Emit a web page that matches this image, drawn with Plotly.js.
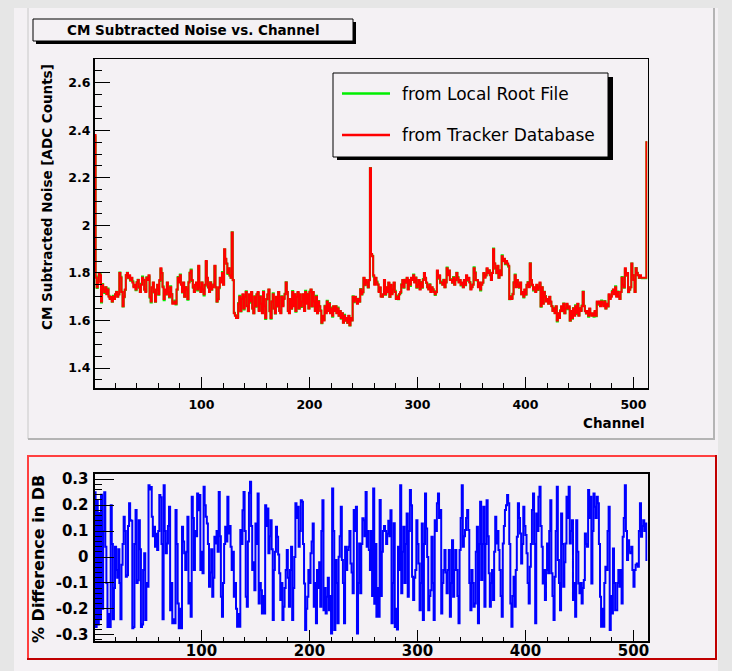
<!DOCTYPE html>
<html><head><meta charset="utf-8">
<script src="https://cdn.plot.ly/plotly-3.0.1.min.js"></script>
<style>html,body{margin:0;padding:0;background:#e6e6e6;}#chart{width:732px;height:671px;}</style>
</head><body><div id="chart"></div>
<script>
// ---- data ----
const dbNoise = [
2.38,1.78,1.74,1.76,1.80,1.79,1.68,1.75,1.73,1.72,1.74,1.71,1.73,1.70,1.69,1.70,
1.68,1.70,1.69,1.71,1.72,1.70,1.71,1.80,1.78,1.72,1.66,1.70,1.73,1.79,1.80,1.78,
1.79,1.77,1.78,1.76,1.74,1.75,1.73,1.76,1.77,1.74,1.72,1.75,1.78,1.77,1.73,1.72,
1.78,1.77,1.79,1.70,1.68,1.74,1.76,1.72,1.68,1.73,1.75,1.71,1.77,1.82,1.80,1.74,
1.69,1.73,1.71,1.76,1.72,1.70,1.74,1.71,1.67,1.67,1.68,1.67,1.73,1.78,1.76,1.79,
1.75,1.72,1.76,1.70,1.74,1.73,1.69,1.76,1.80,1.81,1.77,1.74,1.72,1.75,1.76,1.73,
1.83,1.74,1.72,1.76,1.73,1.71,1.75,1.85,1.78,1.74,1.72,1.76,1.73,1.74,1.75,1.83,
1.74,1.68,1.69,1.74,1.78,1.76,1.80,1.75,1.90,1.86,1.84,1.80,1.82,1.79,1.78,1.97,
1.77,1.63,1.62,1.61,1.61,1.67,1.70,1.64,1.69,1.71,1.65,1.70,1.72,1.66,1.64,1.71,
1.68,1.72,1.65,1.63,1.70,1.66,1.71,1.72,1.64,1.70,1.67,1.63,1.72,1.66,1.61,1.69,
1.71,1.73,1.64,1.61,1.68,1.71,1.65,1.63,1.70,1.66,1.72,1.64,1.63,1.70,1.66,1.69,
1.71,1.76,1.72,1.64,1.63,1.69,1.65,1.72,1.66,1.71,1.64,1.70,1.72,1.65,1.71,1.66,
1.68,1.71,1.64,1.72,1.67,1.71,1.65,1.72,1.73,1.66,1.72,1.68,1.64,1.70,1.63,1.68,
1.66,1.64,1.59,1.62,1.60,1.66,1.63,1.68,1.64,1.67,1.63,1.65,1.62,1.66,1.64,1.66,
1.63,1.65,1.62,1.64,1.61,1.63,1.59,1.62,1.60,1.61,1.59,1.62,1.58,1.61,1.60,1.70,
1.68,1.70,1.69,1.67,1.69,1.68,1.73,1.71,1.72,1.78,1.75,1.77,1.76,1.74,1.77,2.24,
1.88,1.87,1.79,1.75,1.78,1.76,1.75,1.72,1.74,1.70,1.70,1.71,1.77,1.71,1.74,1.72,
1.76,1.70,1.75,1.71,1.73,1.76,1.72,1.69,1.70,1.69,1.71,1.72,1.75,1.77,1.74,1.77,
1.76,1.78,1.73,1.77,1.75,1.78,1.77,1.79,1.76,1.78,1.74,1.75,1.77,1.73,1.76,1.74,
1.77,1.80,1.78,1.76,1.74,1.73,1.75,1.72,1.74,1.73,1.72,1.71,1.72,1.81,1.78,1.79,
1.76,1.76,1.75,1.77,1.74,1.76,1.82,1.79,1.81,1.77,1.77,1.76,1.78,1.75,1.77,1.80,
1.78,1.76,1.77,1.75,1.76,1.74,1.77,1.75,1.79,1.77,1.78,1.76,1.73,1.74,1.75,1.82,
1.80,1.77,1.77,1.74,1.76,1.73,1.75,1.76,1.80,1.78,1.79,1.82,1.80,1.81,1.79,1.77,
1.80,1.90,1.84,1.82,1.80,1.83,1.78,1.81,1.79,1.87,1.85,1.86,1.84,1.85,1.84,1.83,
1.69,1.70,1.69,1.71,1.76,1.79,1.74,1.77,1.75,1.74,1.76,1.71,1.72,1.70,1.73,1.71,
1.75,1.76,1.74,1.84,1.77,1.75,1.73,1.74,1.72,1.75,1.73,1.74,1.76,1.66,1.74,1.67,
1.72,1.70,1.68,1.69,1.67,1.70,1.68,1.66,1.64,1.65,1.63,1.66,1.60,1.63,1.61,1.64,
1.66,1.64,1.67,1.63,1.65,1.67,1.65,1.66,1.60,1.64,1.61,1.65,1.62,1.66,1.63,1.67,
1.62,1.65,1.64,1.66,1.72,1.66,1.64,1.63,1.64,1.62,1.65,1.63,1.62,1.63,1.62,1.64,
1.62,1.68,1.67,1.68,1.66,1.68,1.67,1.66,1.68,1.65,1.67,1.66,1.71,1.69,1.70,1.72,
1.73,1.71,1.74,1.70,1.72,1.70,1.69,1.72,1.78,1.75,1.74,1.82,1.79,1.80,1.72,1.73,
1.74,1.84,1.79,1.77,1.72,1.82,1.80,1.79,1.78,1.79,1.78,1.78,1.78,1.78,1.78,2.35
];
const pctDiff = [
0.25,-0.27,0.22,-0.26,0.17,-0.24,0.24,-0.20,0.10,0.25,0.04,-0.10,-0.27,-0.22,-0.27,0.20,
0.05,-0.24,-0.12,0.04,-0.05,-0.08,0.03,-0.10,-0.24,-0.03,0.05,0.155,0.10,-0.076,-0.07,0.12,
0.207,0.142,0.14,-0.275,-0.27,0.05,0.181,-0.10,-0.09,0.142,0.03,-0.27,-0.26,-0.05,0.014,-0.243,
-0.10,-0.115,0.277,0.26,0.27,0.155,0.08,0.117,0.04,0.09,0.027,0.10,0.239,0.23,0.05,-0.24,
0.277,0.10,0.014,0.052,0.12,0.194,-0.205,-0.10,-0.256,-0.24,-0.256,0.181,0.05,-0.179,-0.275,-0.20,
-0.275,0.117,0.06,0.014,-0.05,0.02,0.155,-0.179,-0.10,-0.23,0.232,0.15,-0.05,0.10,0.08,0.245,
0.18,0.239,-0.05,0.02,-0.063,0.271,0.20,0.155,0.129,0.05,-0.115,-0.06,0.03,-0.153,-0.08,0.078,
0.052,0.10,0.02,0.251,0.08,-0.153,-0.23,-0.10,0.05,0.117,0.06,0.232,0.091,0.12,0.04,-0.05,
0.02,-0.153,-0.10,-0.20,-0.269,-0.22,-0.269,0.104,0.05,0.18,0.251,0.10,-0.153,-0.192,0.06,0.248,
0.29,0.12,-0.05,-0.02,-0.128,0.129,0.05,0.245,-0.179,-0.10,-0.128,-0.218,-0.15,-0.218,0.20,0.12,
0.187,0.014,0.08,0.142,0.03,-0.243,-0.05,0.02,0.117,0.078,0.01,-0.063,-0.166,-0.10,-0.243,-0.192,
-0.12,-0.05,0.027,-0.08,-0.192,-0.05,0.04,-0.243,-0.12,0.0,0.207,0.15,0.194,0.04,0.10,0.219,
0.213,0.05,-0.102,-0.282,-0.20,-0.153,-0.05,-0.10,0.014,0.06,0.129,-0.192,-0.10,-0.256,-0.05,-0.12,
-0.02,-0.192,0.10,0.219,-0.205,-0.12,-0.218,-0.153,-0.08,-0.205,-0.15,-0.295,0.264,0.10,-0.282,-0.012,
-0.10,-0.256,0.001,0.08,0.194,-0.012,-0.10,-0.256,0.04,-0.05,0.027,0.04,0.10,-0.025,-0.06,-0.14,
0.181,0.10,0.194,-0.295,-0.10,0.052,-0.14,0.05,0.149,0.142,0.08,0.251,0.04,0.10,0.027,-0.05,
0.10,-0.15,0.264,-0.18,0.05,-0.23,-0.12,-0.23,0.22,-0.15,0.02,0.10,0.12,0.10,0.05,0.09,
0.14,0.08,0.18,-0.256,-0.10,0.13,-0.27,-0.20,-0.28,0.04,-0.05,0.277,-0.14,0.02,0.117,-0.10,
0.05,0.168,-0.153,0.10,0.258,0.20,-0.076,-0.166,-0.08,-0.05,0.142,0.05,-0.025,-0.205,-0.10,0.129,
-0.243,0.05,0.245,0.11,0.0,-0.205,-0.15,-0.128,0.078,-0.10,-0.243,0.142,0.10,0.207,0.245,0.15,
0.181,-0.218,-0.10,-0.05,0.027,-0.06,-0.14,-0.05,0.027,-0.23,-0.10,0.065,-0.153,-0.05,0.027,-0.05,
-0.15,-0.256,0.027,0.15,0.277,0.04,0.08,0.104,0.15,0.181,0.104,-0.10,-0.205,-0.05,-0.10,-0.192,
-0.179,0.02,0.117,-0.256,0.05,0.213,-0.089,0.05,0.194,-0.192,0.05,0.219,0.08,-0.063,-0.192,-0.10,
-0.05,-0.166,0.02,0.155,0.052,0.10,0.027,-0.05,-0.15,-0.23,0.052,0.12,0.181,0.20,0.239,0.207,
0.05,-0.179,-0.269,-0.15,-0.076,-0.192,-0.05,0.078,0.207,0.15,0.091,-0.025,0.05,0.194,0.12,0.085,
0.014,-0.10,-0.179,-0.038,0.05,0.181,0.245,0.05,-0.256,0.168,0.10,0.232,0.271,0.12,0.04,-0.102,
-0.05,-0.166,-0.05,0.052,-0.063,0.10,0.219,-0.063,-0.15,-0.243,-0.076,0.10,0.271,-0.012,-0.10,-0.205,
0.168,0.05,-0.115,-0.02,0.052,0.232,0.15,0.271,0.052,0.10,0.142,-0.166,-0.10,-0.23,0.142,0.02,
-0.102,-0.14,-0.10,-0.179,-0.12,-0.089,0.091,0.05,0.04,0.258,0.15,0.232,-0.102,0.10,0.245,0.194,
0.15,0.232,0.207,0.05,-0.153,-0.269,-0.20,-0.269,-0.10,-0.038,-0.05,0.10,0.194,-0.282,-0.15,-0.218,
0.033,-0.10,-0.205,-0.205,-0.10,-0.05,-0.115,-0.05,-0.179,0.078,0.15,0.277,0.10,-0.012,0.065,0.02,
0.014,0.04,-0.05,-0.115,-0.05,-0.03,-0.025,-0.038,0.10,0.207,0.078,0.12,0.142,0.10,0.129,-0.012
];
const xTickVals = [100, 200, 300, 400, 500];
const yTopTickVals = [1.4, 1.6, 1.8, 2.0, 2.2, 2.4, 2.6];
const yTopTickText = ['1.4', '1.6', '1.8', '2', '2.2', '2.4', '2.6'];
const yBotTickVals = [-0.3, -0.2, -0.1, 0, 0.1, 0.2, 0.3];
const yBotTickText = ['-0.3', '-0.2', '-0.1', '0', '0.1', '0.2', '0.3'];
const seriesNames = ['from Local Root File', 'from Tracker Database'];
const seriesColors = ['#00ee00', '#ff0000'];
const titleText = 'CM Subtracted Noise vs. Channel';
const xTitle = 'Channel';
const yTopTitle = 'CM Subtracted Noise [ADC Counts]';
const yBotTitle = '% Difference in DB';

// ---- derived ----
// local-file noise from the DB noise and the percent difference
const localNoise = dbNoise.map((v, i) => v / (1 + pctDiff[i] / 100));
const edges = dbNoise.map((_, i) => i + 1).concat([dbNoise.length + 1]);
const stepY = a => a.concat([a[a.length - 1]]);

const W = 732, H = 671;
const X = p => p / W, Y = p => 1 - p / H;
const FONT = 'DejaVu Sans';
const BG = '#f4f1f4';

const traces = [
  {x: edges, y: stepY(localNoise), type: 'scatter', mode: 'lines', line: {shape: 'hv', color: seriesColors[0], width: 2}, xaxis: 'x', yaxis: 'y', name: seriesNames[0], hoverinfo: 'skip'},
  {x: edges, y: stepY(dbNoise), type: 'scatter', mode: 'lines', line: {shape: 'hv', color: seriesColors[1], width: 2}, xaxis: 'x', yaxis: 'y', name: seriesNames[1], hoverinfo: 'skip'},
  {x: edges, y: stepY(pctDiff), type: 'scatter', mode: 'lines', line: {shape: 'hv', color: '#0000ff', width: 2}, xaxis: 'x2', yaxis: 'y2', hoverinfo: 'skip'}
];

function rect(x0, y0, x1, y1, fill, line, lw, layer) {
  return {type: 'rect', xref: 'paper', yref: 'paper', x0: X(x0), x1: X(x1), y0: Y(y1), y1: Y(y0),
    fillcolor: fill || 'rgba(0,0,0,0)', line: {color: line || 'rgba(0,0,0,0)', width: lw || 0}, layer: layer || 'below'};
}
function seg(x0, y0, x1, y1, color, lw, layer) {
  return {type: 'line', xref: 'paper', yref: 'paper', x0: X(x0), x1: X(x1), y0: Y(y0), y1: Y(y1),
    line: {color: color, width: lw}, layer: layer || 'below'};
}

const shapes = [
  rect(0, 0, 732, 671, '#e6e6e6'),
  rect(14, 8, 718, 671, BG),
  // top pad bevel
  seg(28, 8, 28, 439, '#c8c8c8', 1),
  seg(28, 439, 715, 439, '#b4b4b4', 2),
  seg(714, 8, 714, 439, '#b4b4b4', 2),
  // bottom pad red border
  seg(27, 456, 717, 456, '#ff4040', 2),
  seg(28, 455, 28, 660, '#ff4040', 2),
  seg(27, 659, 717, 659, '#c00000', 2),
  seg(716, 455, 716, 660, '#c00000', 2),
  // title box with shadow
  rect(36, 22, 356, 44, '#000000', null, 0, 'above'),
  rect(33, 19, 353, 41, BG, '#000000', 1, 'above'),
  // legend box with shadow
  rect(337, 77, 613, 160, '#000000', null, 0, 'above'),
  rect(333, 73, 608, 157, BG, '#000000', 1, 'above'),
  seg(342, 93.5, 390, 93.5, seriesColors[0], 2.5, 'above'),
  seg(342, 135, 390, 135, seriesColors[1], 2.5, 'above')
];

const ann = (text, x, y, opts) => Object.assign({text: text, xref: 'paper', yref: 'paper', x: X(x), y: Y(y),
  showarrow: false, xanchor: 'center', yanchor: 'middle', font: {family: FONT, size: 13.5, weight: 700, color: '#000'}}, opts || {});

const annotations = [
  ann(titleText, 193, 30),
  ann(yTopTitle, 47, 197, {textangle: -90}),
  ann(xTitle, 647, 423, {xanchor: 'right'}),
  ann(yBotTitle, 38, 559, {textangle: -90, font: {family: FONT, size: 16, weight: 700, color: '#000'}}),
  ann(seriesNames[0], 400, 94, {xanchor: 'left', font: {family: FONT, size: 17, weight: 400, color: '#000'}}),
  ann(seriesNames[1], 400, 135, {xanchor: 'left', font: {family: FONT, size: 17, weight: 400, color: '#000'}})
];

const axCommon = {showgrid: false, zeroline: false, showline: true, linecolor: '#000', mirror: true,
  ticks: 'inside', tickcolor: '#000', tickwidth: 1, fixedrange: true};

const layout = {
  width: W, height: H, margin: {l: 0, r: 0, t: 0, b: 0}, showlegend: false,
  paper_bgcolor: '#e6e6e6', plot_bgcolor: 'rgba(0,0,0,0)',
  xaxis: Object.assign({}, axCommon, {domain: [X(94.5), X(647.5)], range: [1, 513], anchor: 'y', linewidth: 1.5,
    tickmode: 'array', tickvals: xTickVals, ticklen: 11,
    minor: {tickmode: 'linear', tick0: 0, dtick: 20, ticks: 'inside', ticklen: 5, tickcolor: '#000', tickwidth: 1},
    tickfont: {family: FONT, size: 12.5, weight: 700, color: '#000'}, ticklabelstandoff: 4}),
  yaxis: Object.assign({}, axCommon, {domain: [Y(388), Y(59)], range: [1.316, 2.7], anchor: 'x', linewidth: 1.5,
    tickmode: 'array', tickvals: yTopTickVals, ticktext: yTopTickText, ticklen: 15,
    minor: {tickmode: 'linear', tick0: 0, dtick: 0.05, ticks: 'inside', ticklen: 7, tickcolor: '#000', tickwidth: 1},
    tickfont: {family: FONT, size: 12.5, weight: 700, color: '#000'}, ticklabelstandoff: 0}),
  xaxis2: Object.assign({}, axCommon, {domain: [X(94.5), X(647.5)], range: [1, 513], anchor: 'y2', linewidth: 2,
    tickmode: 'array', tickvals: xTickVals, ticklen: 11,
    minor: {tickmode: 'linear', tick0: 0, dtick: 20, ticks: 'inside', ticklen: 4, tickcolor: '#000', tickwidth: 1},
    tickfont: {family: FONT, size: 15, weight: 700, color: '#000'}, ticklabelstandoff: -5}),
  yaxis2: Object.assign({}, axCommon, {domain: [Y(641), Y(474.3)], range: [-0.324, 0.319], anchor: 'x2', linewidth: 2,
    tickmode: 'array', tickvals: yBotTickVals, ticktext: yBotTickText, ticklen: 19,
    minor: {tickmode: 'linear', tick0: 0, dtick: 0.02, ticks: 'inside', ticklen: 7, tickcolor: '#000', tickwidth: 1},
    tickfont: {family: FONT, size: 15, weight: 700, color: '#000'}, ticklabelstandoff: 1}),
  shapes: shapes,
  annotations: annotations
};

Plotly.newPlot('chart', traces, layout, {staticPlot: true, displayModeBar: false});
</script>
</body></html>
